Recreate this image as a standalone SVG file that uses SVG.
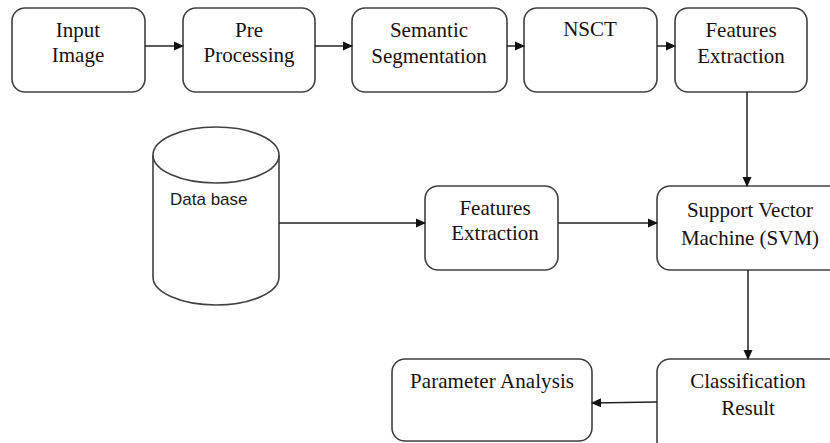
<svg xmlns="http://www.w3.org/2000/svg" width="830" height="443" viewBox="0 0 830 443">
<style>
.box{fill:#fff;stroke:#404040;stroke-width:1.6}
.t{font-family:"Liberation Serif","Times New Roman",serif;font-size:21px;fill:#1a1010;text-anchor:middle}
.s{font-family:"Liberation Sans",Arial,sans-serif;font-size:17px;fill:#1a1a1a}
.c{stroke:#222;stroke-width:1.5;fill:none;marker-end:url(#ah)}
</style>
<defs>
<marker id="ah" markerWidth="10" markerHeight="10" refX="9" refY="5" orient="auto" markerUnits="userSpaceOnUse">
<path d="M0,0.5 L10,5 L0,9.5 Z" fill="#111"/>
</marker>
</defs>
<rect width="830" height="443" fill="#fff"/>
<g id="n1"><rect class="box" x="12" y="8" width="133" height="84" rx="13"/><text class="t" x="78" y="37">Input</text><text class="t" x="78" y="62">Image</text></g>
<g id="n2"><rect class="box" x="183" y="8" width="132" height="84" rx="13"/><text class="t" x="249" y="37">Pre</text><text class="t" x="249" y="62">Processing</text></g>
<g id="n3"><rect class="box" x="352" y="8" width="155" height="84" rx="13"/><text class="t" x="429" y="37">Semantic</text><text class="t" x="429" y="63">Segmentation</text></g>
<g id="n4"><rect class="box" x="524" y="8" width="133" height="84" rx="13"/><text class="t" x="590" y="36">NSCT</text></g>
<g id="n5"><rect class="box" x="675" y="8" width="132" height="84" rx="13"/><text class="t" x="741" y="37">Features</text><text class="t" x="741" y="63">Extraction</text></g>
<g id="db">
<path class="box" d="M153,155 L153,277 A63,28 0 0 0 279,277 L279,155"/>
<ellipse class="box" cx="216" cy="155" rx="63" ry="28"/>
<text class="s" x="170" y="205">Data base</text>
</g>
<g id="n6"><rect class="box" x="425" y="186" width="133" height="84" rx="13"/><text class="t" x="495" y="215">Features</text><text class="t" x="495" y="240">Extraction</text></g>
<g id="n7"><rect class="box" x="657" y="186" width="185" height="84" rx="13"/><text class="t" x="750" y="217">Support Vector</text><text class="t" x="750" y="245">Machine (SVM)</text></g>
<g id="n8"><rect class="box" x="657" y="359" width="185" height="95" rx="13"/><text class="t" x="748" y="388">Classification</text><text class="t" x="748" y="415">Result</text></g>
<g id="n9"><rect class="box" x="392" y="359" width="200" height="82" rx="13"/><text class="t" x="492" y="388" textLength="164">Parameter Analysis</text></g>
<g id="connectors">
<line class="c" x1="145" y1="46" x2="183" y2="46"/>
<line class="c" x1="315" y1="46" x2="352" y2="46"/>
<line class="c" x1="507" y1="46" x2="524" y2="46"/>
<line class="c" x1="657" y1="46" x2="675" y2="46"/>
<line class="c" x1="747" y1="92" x2="747" y2="186"/>
<line class="c" x1="279" y1="223" x2="425" y2="223"/>
<line class="c" x1="558" y1="223" x2="657" y2="223"/>
<line class="c" x1="748" y1="270" x2="748" y2="359"/>
<line class="c" x1="657" y1="402" x2="592" y2="403"/>
</g>
</svg>
